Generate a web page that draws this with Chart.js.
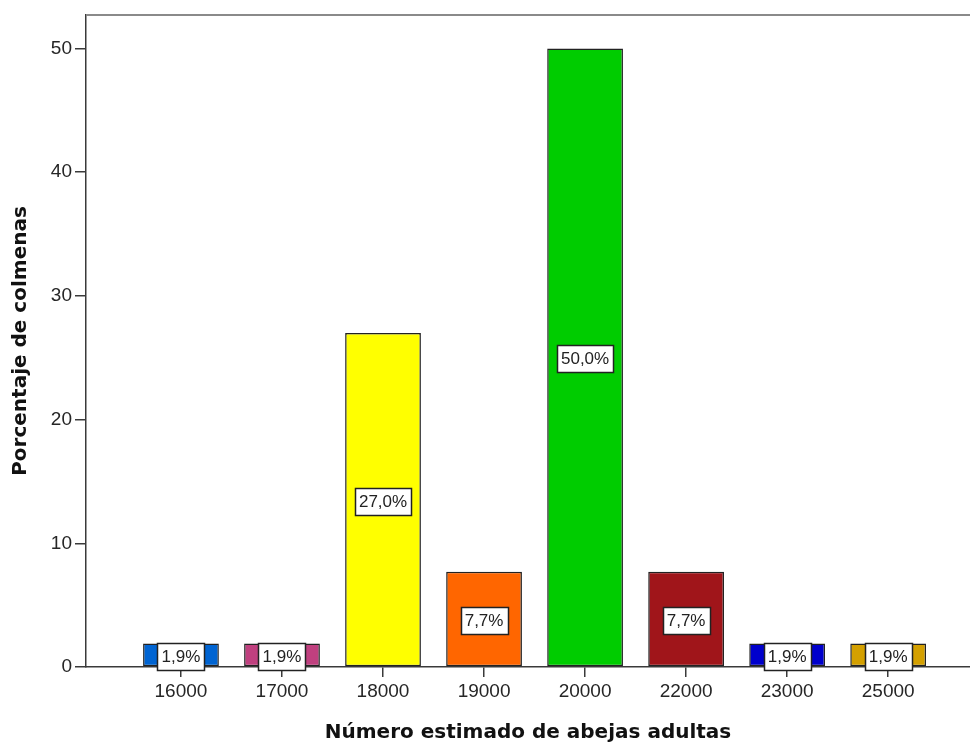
<!DOCTYPE html>
<html>
<head>
<meta charset="utf-8">
<script src="https://cdn.jsdelivr.net/npm/chart.js@4/dist/chart.umd.min.js"></script>
<style>
  html, body { margin: 0; padding: 0; background: #fff; }
  #wrap { width: 970px; height: 747px; }
</style>
</head>
<body>
<div id="wrap"><canvas id="barChart" width="970" height="747"></canvas></div>
<script>
// categories (x axis) and bar values
var categories = ['16000', '17000', '18000', '19000', '20000', '22000', '23000', '25000'];
var percentages = [1.9, 1.9, 27.0, 7.7, 50.0, 7.7, 1.9, 1.9];
var barColors = ['#0064d2', '#c0407f', '#ffff00', '#ff6600', '#00cc00', '#a0151a', '#0000cc', '#d4a000'];
var yTicks = [0, 10, 20, 30, 40, 50];

var sansFont = '"Liberation Sans", Arial, sans-serif';
var titleFont = '"DejaVu Sans", Verdana, sans-serif';

// white boxes with the percentage in the middle of each bar
var valueLabels = {
    id: 'valueLabels',
    afterDatasetsDraw: function(chart) {
        var ctx = chart.ctx;
        var meta = chart.getDatasetMeta(0);
        ctx.save();
        ctx.font = '17px ' + sansFont;
        ctx.textAlign = 'center';
        ctx.textBaseline = 'middle';
        meta.data.forEach(function(bar, i) {
            var txt = percentages[i].toFixed(1).replace('.', ',') + '%';
            var cy = Math.round((bar.y + bar.base) / 2) + 1;
            var w = Math.round(ctx.measureText(txt).width) + 8;
            var h = 27;
            var x0 = Math.round(bar.x - w / 2) + 0.5;
            var y0 = Math.round(cy - h / 2) + 0.5;
            ctx.fillStyle = '#fff';
            ctx.fillRect(x0, y0, w, h);
            ctx.strokeStyle = '#222';
            ctx.lineWidth = 1.5;
            ctx.strokeRect(x0, y0, w, h);
            ctx.fillStyle = '#222';
            ctx.fillText(txt, bar.x, cy + 1);
        });
        ctx.restore();
    }
};

// grey frame line along the top of the plot
var topLine = {
    id: 'topLine',
    afterDraw: function(chart) {
        var a = chart.chartArea;
        var ctx = chart.ctx;
        ctx.save();
        ctx.strokeStyle = '#8a8a8a';
        ctx.lineWidth = 2;
        ctx.beginPath();
        ctx.moveTo(a.left, a.top);
        ctx.lineTo(a.right, a.top);
        ctx.stroke();
        ctx.restore();
    }
};

document.addEventListener('DOMContentLoaded', function() {
    var ctx = document.getElementById('barChart').getContext('2d');

    var points = percentages.map(function(v, i) { return { x: i, y: v }; });

    new Chart(ctx, {
        type: 'bar',
        data: {
            datasets: [{
                data: points,
                backgroundColor: barColors,
                borderColor: '#222',
                borderWidth: 1.5,
                borderSkipped: false,
                barPercentage: 0.75,
                categoryPercentage: 1.0
            }]
        },
        options: {
            responsive: false,
            animation: false,
            layout: { padding: { top: 15, left: 0, right: 0, bottom: 0 } },
            plugins: {
                legend: { display: false },
                tooltip: { enabled: false }
            },
            scales: {
                x: {
                    type: 'linear',
                    min: -0.94,
                    max: 7.81,
                    offset: false,
                    afterFit: function(scale) { scale.height = 80; },
                    border: { display: true, color: '#3a3a3a', width: 1.5 },
                    grid: { drawOnChartArea: false, drawTicks: true, tickLength: 10, color: '#3a3a3a', lineWidth: 1.5, offset: false },
                    ticks: {
                        stepSize: 1,
                        includeBounds: false,
                        maxRotation: 0,
                        autoSkip: false,
                        padding: 3,
                        color: '#262626',
                        font: { family: sansFont, size: 19 },
                        callback: function(value) {
                            return categories[value] !== undefined ? categories[value] : '';
                        }
                    },
                    title: {
                        display: true,
                        text: 'Número estimado de abejas adultas',
                        color: '#111',
                        font: { family: titleFont, size: 20, weight: 'bold' },
                        padding: { top: 0, bottom: 2 }
                    }
                },
                y: {
                    min: 0,
                    max: 52.7,
                    afterFit: function(scale) { scale.width = 86; },
                    border: { display: true, color: '#3a3a3a', width: 1.5 },
                    grid: { drawOnChartArea: false, drawTicks: true, tickLength: 11, color: '#3a3a3a', lineWidth: 1.5 },
                    afterBuildTicks: function(scale) {
                        scale.ticks = yTicks.map(function(v) { return { value: v }; });
                    },
                    ticks: {
                        padding: 3,
                        color: '#262626',
                        font: { family: sansFont, size: 19 }
                    },
                    title: {
                        display: true,
                        text: 'Porcentaje de colmenas',
                        color: '#111',
                        font: { family: titleFont, size: 20, weight: 'bold' },
                        padding: { top: 9, bottom: 0 }
                    }
                }
            }
        },
        plugins: [valueLabels, topLine]
    });
});
</script>
</body>
</html>
